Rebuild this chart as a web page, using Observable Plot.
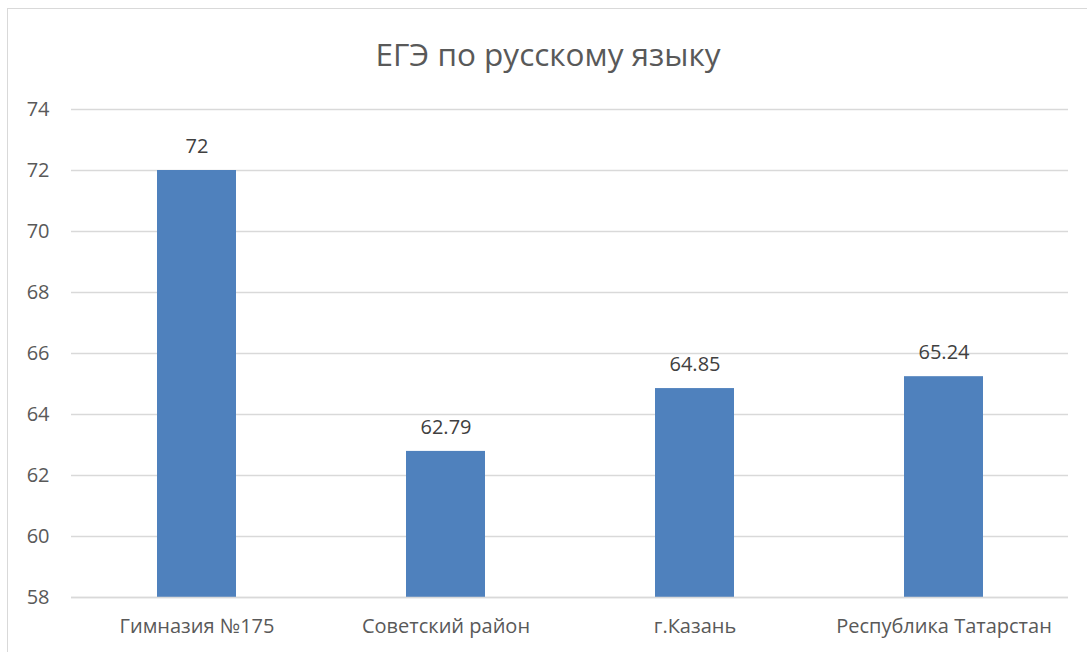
<!DOCTYPE html>
<html>
<head>
<meta charset="utf-8">
<script src="https://cdn.jsdelivr.net/npm/d3@7"></script>
<script src="https://cdn.jsdelivr.net/npm/@observablehq/plot@0.6"></script>
<style>
  html, body { margin: 0; padding: 0; background: #fff; }
  #wrap { position: relative; width: 1087px; height: 652px; overflow: hidden; font-family: "Open Sans", sans-serif; }
  #frame { position: absolute; left: 7px; top: 8px; width: 1100px; height: 700px; border: 1.5px solid #d9d9d9; box-sizing: border-box; }
  #title { position: absolute; left: 0; width: 1096px; top: 32px; text-align: center; font-size: 31.5px; color: #595959; }
  #chart { position: absolute; left: 0; top: 0; }
</style>
</head>
<body>
<div id="wrap">
  <div id="frame"></div>
  <div id="chart"></div>
  <div id="title">ЕГЭ по русскому языку</div>
</div>
<script>
const categories = ["Гимназия №175", "Советский район", "г.Казань", "Республика Татарстан"];
const values = [72, 62.79, 64.85, 65.24];
const valueLabels = ["72", "62.79", "64.85", "65.24"];
const yTicks = [58, 60, 62, 64, 66, 68, 70, 72, 74];

const data = categories.map((c, i) => ({category: c, value: values[i], label: valueLabels[i]}));

const chart = Plot.plot({
  width: 1087,
  height: 652,
  marginTop: 109,
  marginBottom: 55,
  marginLeft: 71,
  marginRight: 19,
  style: {fontFamily: "Open Sans, sans-serif", fontSize: "20px", color: "#595959", background: "transparent"},
  x: {domain: categories, paddingInner: 0.683, paddingOuter: 0.3415, label: null},
  y: {domain: [58, 74], label: null},
  marks: [
    Plot.gridY(yTicks, {stroke: "#d9d9d9", strokeOpacity: 1, strokeWidth: 1.5}),
    Plot.barY(data, {x: "category", y1: 58, y2: "value", fill: "#4F81BD"}),
    Plot.ruleY([58], {stroke: "#d9d9d9", strokeWidth: 1.5}),
    Plot.text(data, {x: "category", y: "value", text: "label", dy: -24, fill: "#404040", fontSize: 20}),
    Plot.axisY(yTicks, {tickSize: 0, tickPadding: 22, fill: "#595959", fontSize: 20, tickFormat: d => String(d)}),
    Plot.axisX({tickSize: 0, tickPadding: 21, fill: "#595959", fontSize: 20})
  ]
});
document.getElementById("chart").appendChild(chart);
</script>
</body>
</html>
